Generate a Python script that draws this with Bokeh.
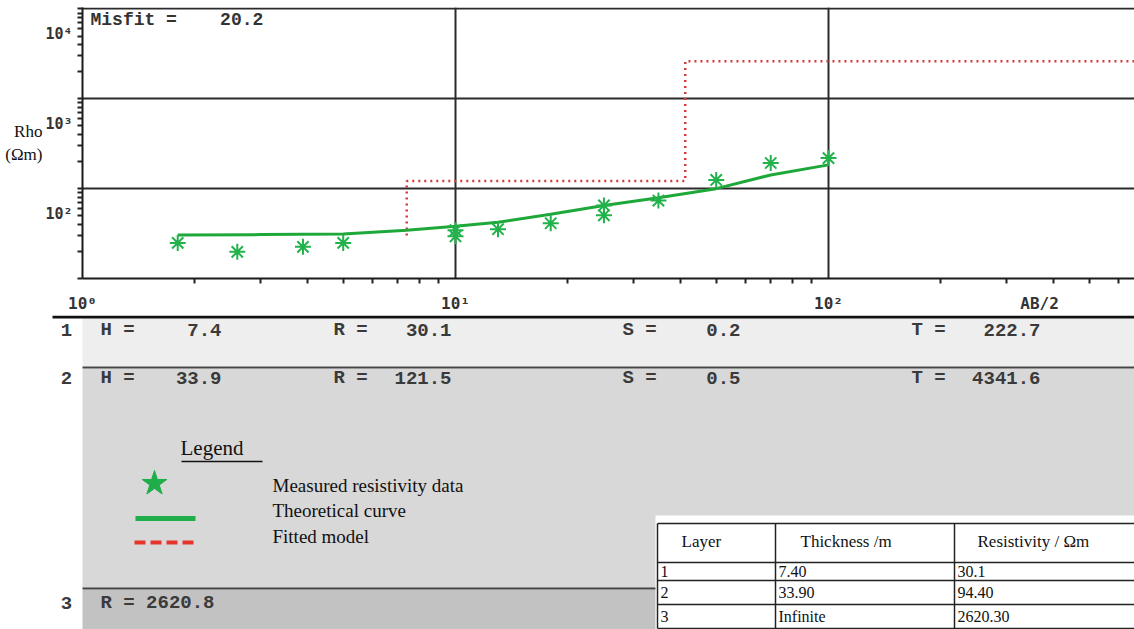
from bokeh.plotting import figure
from bokeh.models import Range1d, Label, FixedTicker
from bokeh.core.properties import value
from bokeh.embed import file_html
from bokeh.resources import INLINE

# ---------------- data ----------------
ab2_meas = [1.8, 2.6, 3.9, 5.0, 10.0, 10.0, 13.0, 18.0, 25.0, 25.0, 35.0, 50.0, 70.0, 100.0]
rho_meas = [24.9, 19.8, 22.5, 24.9, 34.5, 29.5, 35.4, 41.2, 65.0, 50.5, 73.8, 125.0, 193.0, 219.0]

ab2_curve = [1.8, 3.0, 5.0, 7.4, 10.0, 13.0, 18.0, 25.0, 35.0, 50.0, 70.0, 100.0]
rho_curve = [30.5, 30.8, 31.2, 34.5, 38.2, 42.3, 51.8, 65.0, 79.4, 100.0, 142.0, 184.0]

layer_no = ["1", "2", "3"]
H = [7.4, 33.9]
R = [30.1, 121.5, 2620.8]
S = [0.2, 0.5]
T = [222.7, 4341.6]
misfit = 20.2

tbl_header = ["Layer", "Thickness /m", "Resistivity / \u03a9m"]
tbl_layer = ["1", "2", "3"]
tbl_thick = ["7.40", "33.90", "Infinite"]
tbl_res = ["30.1", "94.40", "2620.30"]

x_decades = [1, 10, 100]
x_tick_labels = ["10\u2070", "10\u00b9", "10\u00b2"]
y_decades = [10, 100, 1000, 10000]
# the y labels of the original sit a little below their decade lines
y_label_pos = [52.5, 525.0, 5250.0]
y_tick_labels = ["10\u00b2", "10\u00b3", "10\u2074"]
ab2_label_pos = 368
ab2_label = "AB/2"

MONO = "Liberation Mono"
SERIF = "Liberation Serif"

# -------------- top: sounding curve --------------
XMAX = 10 ** (1052 / 373)
p = figure(width=1134, height=315, x_axis_type="log", y_axis_type="log",
           x_range=Range1d(1, XMAX), y_range=Range1d(10, 10 ** (4 + 1.5 / 91)),
           output_backend="svg", toolbar_location=None,
           min_border_left=82, min_border_right=0, min_border_top=7, min_border_bottom=33)
p.outline_line_color = None
p.background_fill_color = "white"
p.border_fill_color = "white"

x_minor = [m * d for d in x_decades for m in range(2, 10) if m * d < XMAX]
y_minor = [m * d for d in y_decades[:-1] for m in range(1, 10)] + [y_decades[-1]]

xax = p.xaxis[0]
yax = p.yaxis[0]
xax.ticker = FixedTicker(ticks=x_decades + [ab2_label_pos], minor_ticks=x_minor)
xax.major_label_overrides = dict(zip(x_decades + [ab2_label_pos], x_tick_labels + [ab2_label]))
yax.ticker = FixedTicker(ticks=y_label_pos, minor_ticks=y_minor)
yax.major_label_overrides = dict(zip(y_label_pos, y_tick_labels))
p.xgrid[0].ticker = FixedTicker(ticks=x_decades)
p.ygrid[0].ticker = FixedTicker(ticks=y_decades)

for ax in (xax, yax):
    ax.axis_line_color = "#1a1a1a"
    ax.axis_line_width = 2
    ax.major_tick_in = 0
    ax.major_tick_out = 0
    ax.minor_tick_in = 0
    ax.minor_tick_out = 5
    ax.minor_tick_line_color = "#222222"
    ax.minor_tick_line_width = 2
    ax.major_label_text_font = "DejaVu Sans Mono"
    ax.major_label_text_font_style = "bold"
    ax.major_label_text_font_size = "15px"
    ax.major_label_text_color = "#333333"
xax.major_label_standoff = 10
xax.major_label_text_font_size = "16px"
yax.major_label_standoff = 5

yax.axis_label = "Rho\n(\u03a9m)"
yax.axis_label_orientation = "horizontal"
yax.axis_label_text_font = SERIF
yax.axis_label_text_font_style = "normal"
yax.axis_label_text_font_size = "17px"
yax.axis_label_text_color = "#111111"
yax.axis_label_standoff = 0

p.grid.grid_line_color = "#2b2b2b"
p.grid.grid_line_width = 2

# model (red dotted)
model_x = [H[0], H[0], H[0] + H[1], H[0] + H[1], XMAX]
model_y = [R[0], R[1], R[1], R[2], R[2]]
p.line(model_x, model_y, line_color="#d63a3c", line_width=2.5, line_dash="2 4")

# theoretical curve
p.line(ab2_curve, rho_curve, line_color="#1fa83a", line_width=3)
# measured
p.scatter(ab2_meas, rho_meas, marker="asterisk", size=16, line_color="#22b24c", line_width=2)

p.add_layout(Label(x=1, y=10000, x_offset=8, y_offset=-11,
                   text=f"Misfit =\u00a0\u00a0\u00a0\u00a0{misfit}", text_align="left",
                   text_baseline="middle", text_font=MONO, text_font_style="bold",
                   text_font_size="18px", text_color="#333333"))

# -------------- bottom: layer panel --------------
p2 = figure(width=1134, height=314, x_range=Range1d(0, 1134), y_range=Range1d(314, 0),
            output_backend="svg", toolbar_location=None,
            x_axis_location=None, y_axis_location=None, min_border=0)
p2.outline_line_color = None
p2.grid.visible = False
p2.background_fill_color = "white"
p2.border_fill_color = "white"

mono = value(MONO)
serif = value(SERIF)

p2.quad(left=[82, 82, 82], right=[1134, 1134, 656], top=[3, 53, 274], bottom=[51, 273, 314],
        fill_color=["#eeeeee", "#d8d8d8", "#c2c2c2"], line_color=None)
p2.segment(x0=[52], y0=[1.5], x1=[1134], y1=[1.5], line_color="#111111", line_width=3)
p2.segment(x0=[82, 82], y0=[52, 273], x1=[1134, 656], y1=[52, 273],
           line_color="#444444", line_width=2)

row_y = [14, 62, 287]
tstyle = dict(text_font=mono, text_font_style="bold", text_font_size="19px",
              text_color="#3a3a3a", text_baseline="middle")
p2.text(x=[66] * 3, y=row_y, text=layer_no, text_align="center", **tstyle)
p2.text(x=[100, 100], y=row_y[:2], text=["H =", "H ="], text_align="left", **tstyle)
p2.text(x=[221, 221], y=row_y[:2], text=[f"{h}" for h in H], text_align="right", **tstyle)
p2.text(x=[333, 333], y=row_y[:2], text=["R =", "R ="], text_align="left", **tstyle)
p2.text(x=[451, 451], y=row_y[:2], text=[f"{r}" for r in R[:2]], text_align="right", **tstyle)
p2.text(x=[622, 622], y=row_y[:2], text=["S =", "S ="], text_align="left", **tstyle)
p2.text(x=[740, 740], y=row_y[:2], text=[f"{s}" for s in S], text_align="right", **tstyle)
p2.text(x=[911, 911], y=row_y[:2], text=["T =", "T ="], text_align="left", **tstyle)
p2.text(x=[1040, 1040], y=row_y[:2], text=[f"{t}" for t in T], text_align="right", **tstyle)
p2.text(x=[100], y=[row_y[2]], text=[f"R = {R[2]}"], text_align="left", **tstyle)

# legend
p2.text(x=[180], y=[132], text=["Legend"], text_font=serif, text_font_size="21px",
        text_color="#111111", text_baseline="middle")
p2.segment(x0=[181], y0=[146], x1=[262], y1=[146], line_color="#111111", line_width=1.5)
p2.scatter(x=[154], y=[168], marker="star", size=26, fill_color="#1fae4a", line_color="#1fae4a")
p2.segment(x0=[135], y0=[203], x1=[195], y1=[203], line_color="#1fae4a", line_width=5)
p2.segment(x0=[134], y0=[227], x1=[194], y1=[227], line_color="#e8342a", line_width=4,
           line_dash="11 5")
p2.text(x=[272] * 3, y=[170, 195, 221],
        text=["Measured resistivity data", "Theoretical curve", "Fitted model"],
        text_font=serif, text_font_size="19px", text_color="#111111", text_baseline="middle")

# table
p2.quad(left=[655], right=[1134], top=[200], bottom=[314], fill_color="white", line_color=None)
p2.segment(x0=[657, 775, 954], y0=[208] * 3, x1=[657, 775, 954], y1=[313] * 3,
           line_color="#222222", line_width=1.5)
p2.segment(x0=[657] * 5, y0=[208, 247, 265, 289, 313], x1=[1134] * 5, y1=[208, 247, 265, 289, 313],
           line_color="#222222", line_width=1.5)
p2.text(x=[681, 800, 977], y=[226] * 3, text=tbl_header, text_font=serif, text_font_size="17px",
        text_color="#111111", text_baseline="middle")
ty = [256, 277, 301]
cstyle = dict(text_font=serif, text_font_size="16px", text_color="#111111", text_baseline="middle")
p2.text(x=[660] * 3, y=ty, text=tbl_layer, **cstyle)
p2.text(x=[778] * 3, y=ty, text=tbl_thick, **cstyle)
p2.text(x=[957] * 3, y=ty, text=tbl_res, **cstyle)

open("out.html", "w").write(file_html([p, p2], INLINE))
